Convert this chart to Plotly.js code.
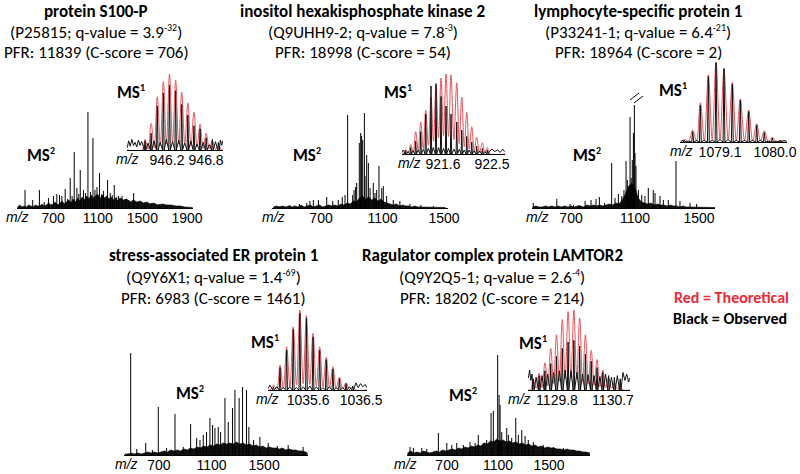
<!DOCTYPE html>
<html><head><meta charset="utf-8">
<script src="https://cdn.plot.ly/plotly-3.0.1.min.js"></script>
<style>html,body{margin:0;padding:0;background:#fff}#chart{width:800px;height:474px}</style>
</head><body><div id="chart"></div>
<script>
// ===================== DATA =====================
// Panel titles
const titles = [
  ["protein S100-P", "(P25815; q-value = 3.9<sup>-32</sup>)", "PFR: 11839 (C-score = 706)"],
  ["inositol hexakisphosphate kinase 2", "(Q9UHH9-2; q-value = 7.8<sup>-3</sup>)", "PFR: 18998 (C-score = 54)"],
  ["lymphocyte-specific protein 1", "(P33241-1; q-value = 6.4<sup>-21</sup>)", "PFR: 18964 (C-score = 2)"],
  ["stress-associated ER protein 1", "(Q9Y6X1; q-value = 1.4<sup>-69</sup>)", "PFR: 6983 (C-score = 1461)"],
  ["Ragulator complex protein LAMTOR2", "(Q9Y2Q5-1; q-value = 2.6<sup>-4</sup>)", "PFR: 18202 (C-score = 214)"]
];
const legendLabels = ["Red = Theoretical", "Black = Observed"];

// MS2 tick labels
const p1Ms2Ticks = [700, 1100, 1500, 1900];
const p2Ms2Ticks = [700, 1100, 1500];
const p3Ms2Ticks = [700, 1100, 1500];
const p4Ms2Ticks = [700, 1100, 1500];
const p5Ms2Ticks = [700, 1100, 1500];
// MS1 tick labels
const p1Ms1Ticks = ["946.2", "946.8"];
const p2Ms1Ticks = ["921.6", "922.5"];
const p3Ms1Ticks = ["1079.1", "1080.0"];
const p4Ms1Ticks = ["1035.6", "1036.5"];
const p5Ms1Ticks = ["1129.8", "1130.7"];

// ---- Panel 1 MS2 ----
const p1Mz  = [448,517,577,620,658,703,733,757,778,808,830,853,870,889,913,930,943,972,990,1012,1035,1057,1075,1093,1116,1135,1152,1188,1212,1230,1248,1270,1287,1318,1350,1380,1422,1460,1520,1580,1650,1720];
const p1Int = [18,8,18,6,10,12,14,13,12,19,9,30,12,56,20,14,38,18,15,96,16,70,18,21,35,14,17,28,15,13,23,11,12,12,9,8,15,6,5,5,4,3];
const p1GrassMz  = [380,400,420,440,460,480,500,520,540,560,580,600,620,640,660,680,700,720,740,760,780,800,820,840,860,880,900,920,940,960,980,1000,1020,1040,1060,1080,1100,1120,1140,1160,1180,1200,1220,1240,1260,1280,1300,1330,1360,1390,1420,1450,1480,1510,1540,1570,1600,1640,1680,1720,1760,1800,1840,1880,1920,1950];
const p1GrassInt = [1,3,1,2,1,3,2,1,3,2,2,4,2,3,5,3,4,6,3,5,7,4,6,8,5,9,6,10,7,11,8,12,9,13,10,12,14,9,13,10,12,9,11,8,10,7,10,8,9,6,8,6,7,5,6,4,5,3,4,3,3,2,2,1,1,0.5];
// ---- Panel 1 MS1 ----
const p1IsoMz   = [945.862,945.956,946.050,946.144,946.238,946.332,946.426,946.520,946.614,946.708,946.802,946.896,946.990];
const p1Theo    = [14,35,70,90,100,92,76,62,50,34,22,12,6];
const p1TheoVal = [1,3,6,8,9,8,7,5,4,2,1,1];
const p1Obs     = [12,22,58,75,85,78,60,46,32,28,16,14,10];
const p1NoiseMz = [945.59,945.61,945.635,945.66,945.685,945.71,945.735,945.76,945.785,945.81,945.835,945.908,946.00,946.095,946.19,946.285,946.38,946.47,946.565,946.66,946.755,946.85,946.945,947.02,947.04,947.055];
const p1NoiseInt= [3,12,5,14,6,10,4,13,6,11,5,9,12,10,14,11,13,9,12,8,10,7,11,13,6,12];

// ---- Panel 2 MS2 ----
const p2Mz  = [433,498,559,607,628,650,683,737,776,812,838,856,873,906,915,925,932,949,958,964,971,982,986,997,1008,1019,1040,1051,1062,1077,1095,1105,1127,1170,1213,1278,1350,1430];
const p2Int = [2,3,4,5,7,8,8,11,7,8,11,13,93,13,18,21,25,65,75,72,68,95,32,53,45,20,25,15,18,42,20,22,12,8,7,4,3,2];
const p2GrassMz  = [390,410,430,450,470,490,510,530,550,570,590,610,630,650,670,690,710,730,750,770,790,810,830,850,870,890,910,930,950,970,990,1010,1030,1050,1070,1090,1110,1130,1150,1170,1190,1210,1230,1250,1270,1290,1310,1330,1350,1370,1390,1410,1430,1450,1470,1490,1510];
const p2GrassInt = [1,2,1,2,1,2,1,2,1,3,1,2,3,1,2,3,1,2,3,2,3,2,4,3,5,4,7,6,10,12,9,11,8,10,7,9,6,5,4,3,4,2,3,2,2,1,2,1,1,1,1,1,1,0.5,1,0.5,0.5];
// ---- Panel 2 MS1 ----
const p2IsoMz   = [920.914,921.006,921.098,921.190,921.282,921.379,921.471,921.563,921.655,921.747,921.852,921.944,922.036,922.128,922.219,922.323,922.415];
const p2Theo    = [6,12,28,40,55,71,86,95,100,99,89,71,52,34,21,14,8];
const p2TheoVal = [1,2,4,7,11,16,20,23,22,18,13,9,6,4,2,1];
const p2Obs     = [4,8,16,28,50,85,88,72,60,50,40,30,22,15,10,7,5];
const p2NoiseMz = [920.85,920.87,920.89,920.96,921.05,921.14,921.24,921.33,921.42,921.52,921.61,921.70,921.80,921.90,921.99,922.08,922.17,922.27,922.37,922.46,922.50,922.55,922.60,922.65,922.70,922.73];
const p2NoiseInt= [2,5,3,3,4,5,6,7,8,8,7,7,6,6,5,5,4,4,3,4,6,3,5,2,6,3];

// ---- Panel 3 MS2 ----
const p3Mz  = [464,611,694,715,750,788,825,856,877,910,954,975,996,1017,1031,1044,1052,1060,1069,1076,1083,1090,1096,1100,1106,1121,1142,1162,1183,1214,1225,1256,1277,1308,1356,1381,1444,1485];
const p3Int = [5,9,4,3,3,7,8,9,11,5,45,10,14,12,18,47,28,20,91,30,48,75,103,55,42,18,13,12,20,18,15,12,8,8,47,7,5,4];
const p3GrassMz  = [460,480,500,520,540,560,580,600,620,640,660,680,700,720,740,760,780,800,820,840,860,880,900,920,940,960,980,1000,1020,1040,1060,1080,1100,1120,1140,1160,1180,1200,1220,1240,1260,1280,1300,1320,1340,1360,1380,1400,1420,1440,1460,1480,1500,1520,1540,1560,1580,1600];
const p3GrassInt = [1,2,1,1,2,1,2,1,2,1,2,1,2,1,2,2,1,3,2,3,2,3,2,3,4,3,5,4,8,14,22,25,20,10,6,5,4,5,3,4,3,3,2,3,2,2,1,2,1,1,1,1,0.5,1,0.5,0.5,0.5,0.5];
// ---- Panel 3 MS1 ----
const p3IsoMz   = [1078.52,1078.653,1078.778,1078.909,1079.035,1079.165,1079.301,1079.432,1079.569,1079.700,1079.825,1079.956,1080.08];
const p3Theo    = [3,15,49,84,100,91,75,54,40,23,14,6,2];
const p3TheoVal = [0.5,1,2,3,3,3,2,2,1,1,0.5,0.3];
const p3Obs     = [2,13,46,82,99,92,72,52,38,21,12,5,2];
const p3NoiseMz = [1078.46,1078.50,1078.58,1078.72,1078.84,1078.97,1079.10,1079.23,1079.37,1079.50,1079.63,1079.76,1079.89,1080.02,1080.14,1080.19];
const p3NoiseInt= [1,2,1,2,2,2,3,3,2,2,2,2,1,1,2,1];

// ---- Panel 4 MS2 ----
const p4Mz  = [485,531,599,650,695,758,822,885,941,987,1012,1037,1062,1088,1108,1126,1151,1169,1202,1227,1260,1278,1310,1336,1366,1384,1420,1468,1531,1600,1683,1797];
const p4Int = [102,6,12,5,48,7,41,8,31,17,15,20,23,37,30,27,28,23,57,33,47,65,57,68,65,28,15,18,12,9,10,8];
const p4GrassMz  = [440,465,490,515,540,565,590,615,640,665,690,715,740,765,790,815,840,865,890,915,940,965,990,1015,1040,1065,1090,1115,1140,1165,1190,1215,1240,1265,1290,1315,1340,1365,1390,1415,1440,1465,1490,1515,1540,1565,1590,1615,1640,1665,1690,1715,1740,1765,1790,1815,1830];
const p4GrassInt = [1,1,2,1,2,1,2,3,2,3,2,3,4,3,5,4,5,4,6,5,7,6,8,7,9,8,10,9,11,10,12,11,12,11,13,11,12,10,11,9,10,8,9,7,8,7,7,6,7,5,6,5,5,4,4,3,2];
// ---- Panel 4 MS1 ----
const p4IsoMz   = [1035.013,1035.125,1035.237,1035.349,1035.461,1035.573,1035.685,1035.797,1035.909,1036.021,1036.133,1036.245,1036.357];
const p4Theo    = [6,31,54,79,100,93,71,54,41,29,16,9,4];
const p4TheoVal = [1,2,4,6,8,7,5,4,3,2,1,0.5];
const p4Obs     = [4,28,50,76,96,90,66,50,38,26,14,8,5];
const p4NoiseMz = [1034.93,1034.95,1034.98,1035.07,1035.18,1035.29,1035.40,1035.52,1035.63,1035.74,1035.85,1035.96,1036.08,1036.19,1036.30,1036.41,1036.45,1036.49,1036.53,1036.57,1036.595];
const p4NoiseInt= [2,6,3,4,3,4,3,4,5,4,3,4,3,3,4,9,3,8,4,7,3];

// ---- Panel 5 MS2 ----
const p5Mz  = [410,436,502,541,632,698,737,776,828,880,920,945,985,1011,1045,1063,1097,1108,1116,1129,1168,1181,1207,1239,1259,1286,1312,1337,1377,1455,1533,1612,1700];
const p5Int = [8,7,7,6,22,12,10,12,10,13,12,20,12,15,42,44,100,60,50,23,27,20,17,37,20,25,19,15,13,10,8,7,5];
const p5GrassMz  = [390,415,440,465,490,515,540,565,590,615,640,665,690,715,740,765,790,815,840,865,890,915,940,965,990,1015,1040,1065,1090,1115,1140,1165,1190,1215,1240,1265,1290,1315,1340,1365,1390,1415,1440,1465,1490,1515,1540,1565,1590,1615,1640,1665,1690,1715,1740,1765,1790,1820];
const p5GrassInt = [2,4,2,3,2,4,3,2,3,4,3,5,4,5,6,5,7,6,8,7,9,8,10,9,12,11,14,13,16,14,15,13,14,12,13,11,12,10,11,9,10,8,9,7,8,7,7,6,6,5,6,5,5,4,4,3,3,2];
// ---- Panel 5 MS1 ----
const p5IsoMz   = [1129.420,1129.513,1129.606,1129.699,1129.792,1129.885,1129.978,1130.071,1130.164,1130.257,1130.350,1130.443,1130.536,1130.629,1130.722,1130.815];
const p5Theo    = [12,21,34,52,69,88,98,100,90,69,50,38,25,16,9,4];
const p5TheoVal = [2,3,5,8,11,14,15,14,11,8,6,4,3,2,1];
const p5Obs     = [14,18,24,33,42,52,60,62,55,45,36,28,22,18,16,14];
const p5NoiseMz = [1129.34,1129.36,1129.38,1129.40,1129.465,1129.56,1129.65,1129.745,1129.84,1129.93,1130.025,1130.12,1130.21,1130.30,1130.395,1130.49,1130.58,1130.675,1130.77,1130.86,1130.89,1130.92,1130.95,1130.97];
const p5NoiseInt= [15,25,12,20,16,18,20,22,24,25,24,22,20,19,18,17,20,16,18,22,12,20,10,15];

// ===================== LAYOUT GEOMETRY (pixels) =====================
const W = 800, H = 474;
const panels = [
  {title:titles[0], tc:[96,11],
   ms2:{mz:p1Mz,int:p1Int,gmz:p1GrassMz,gint:p1GrassInt,ticks:p1Ms2Ticks,x0:17,x1:193,base:208,h:100,range:[376,1954],mzR:31,lbl:[41,155]},
   ms1:{mz:p1IsoMz,theo:p1Theo,val:p1TheoVal,obs:p1Obs,nmz:p1NoiseMz,nint:p1NoiseInt,ticks:p1Ms1Ticks,x0:127,x1:223,base:150,top:74,range:[945.585,947.06],mzR:141,lbl:[131,92],d:0.012}},
  {title:titles[1], tc:[363,11],
   ms2:{mz:p2Mz,int:p2Int,gmz:p2GrassMz,gint:p2GrassInt,ticks:p2Ms2Ticks,x0:272,x1:448,base:208,h:100,range:[381,1526],mzR:287,lbl:[307,155]},
   ms1:{mz:p2IsoMz,theo:p2Theo,val:p2TheoVal,obs:p2Obs,nmz:p2NoiseMz,nint:p2NoiseInt,ticks:p2Ms1Ticks,x0:402,x1:505,base:154,top:74,range:[920.846,922.739],mzR:423,lbl:[398,92],d:0.012}},
  {title:titles[2], tc:[638,11],
   ms2:{mz:p3Mz,int:p3Int,gmz:p3GrassMz,gint:p3GrassInt,ticks:p3Ms2Ticks,x0:532,x1:715,base:208,h:106,range:[456,1600],mzR:551,lbl:[587,155]},
   ms1:{mz:p3IsoMz,theo:p3Theo,val:p3TheoVal,obs:p3Obs,nmz:p3NoiseMz,nint:p3NoiseInt,ticks:p3Ms1Ticks,x0:680,x1:787,base:142,top:62,range:[1078.445,1080.196],mzR:695,lbl:[673,90],d:0.015}},
  {title:titles[3], tc:[213,256],
   ms2:{mz:p4Mz,int:p4Int,gmz:p4GrassMz,gint:p4GrassInt,ticks:p4Ms2Ticks,x0:124,x1:308,base:455,h:103,range:[434,1834],mzR:140,lbl:[190,393]},
   ms1:{mz:p4IsoMz,theo:p4Theo,val:p4TheoVal,obs:p4Obs,nmz:p4NoiseMz,nint:p4NoiseInt,ticks:p4Ms1Ticks,x0:268,x1:367,base:390,top:310,range:[1034.921,1036.60],mzR:281,lbl:[265,342],d:0.014}},
  {title:titles[4], tc:[492,256],
   ms2:{mz:p5Mz,int:p5Int,gmz:p5GrassMz,gint:p5GrassInt,ticks:p5Ms2Ticks,x0:407,x1:590,base:455,h:100,range:[386,1821],mzR:419,lbl:[463,395]},
   ms1:{mz:p5IsoMz,theo:p5Theo,val:p5TheoVal,obs:p5Obs,nmz:p5NoiseMz,nint:p5NoiseInt,ticks:p5Ms1Ticks,x0:528,x1:630,base:390,top:310,range:[1129.334,1130.973],mzR:533,lbl:[533,343],d:0.012}}
];

const TITLE_FONT = "Carlito, Lato, 'Open Sans', sans-serif";
const TICK_FONT = "'Liberation Sans', Arial, sans-serif";
const RED = "#e6545a";
const px = (x) => x / W;
const py = (y) => 1 - y / H;

const traces = [];
const layout = {
  width: W, height: H, margin: {l:0, r:0, t:0, b:0},
  paper_bgcolor: "#fff", plot_bgcolor: "rgba(0,0,0,0)",
  showlegend: false, hovermode: false,
  annotations: [], shapes: []
};

function xAxisDef(dom, range, tickvals, ticktext, anchor) {
  return {domain: dom, range: range, tickvals: tickvals, ticktext: ticktext,
    showline: true, linecolor: "#000", linewidth: 1, ticks: "", showgrid: false,
    zeroline: false, fixedrange: true, anchor: anchor, ticklabelstandoff: -3,
    tickfont: {family: TICK_FONT, size: 14, color: "#000"}};
}
function yAxisDef(dom, range, anchor) {
  return {domain: dom, range: range, visible: false, fixedrange: true, anchor: anchor, showgrid:false, zeroline:false};
}
function ann(text, x, y, font, extra) {
  layout.annotations.push(Object.assign({text: text, x: px(x), y: py(y), xref: "paper", yref: "paper",
    showarrow: false, xanchor: "center", yanchor: "middle", font: font}, extra || {}));
}
const supSmall = (t) => "<sup><span style='font-size:10px'>" + t + "</span></sup>";

let axisN = 0;
panels.forEach((p) => {
  // ---- MS2 axes ----
  axisN++;
  const n2 = axisN;
  const xa2 = n2 === 1 ? "x" : "x" + n2, ya2 = n2 === 1 ? "y" : "y" + n2;
  const m = p.ms2;
  layout[n2 === 1 ? "xaxis" : "xaxis" + n2] = xAxisDef([px(m.x0), px(m.x1)], m.range, m.ticks, m.ticks.map(String), ya2);
  layout[n2 === 1 ? "yaxis" : "yaxis" + n2] = yAxisDef([py(m.base), py(m.base - m.h)], [0, m.h], xa2);
  // grass (dense low-level signal)
  traces.push({type: "scatter", mode: "lines", x: m.gmz, y: m.gint, xaxis: xa2, yaxis: ya2,
    fill: "tozeroy", fillcolor: "#111", line: {color: "#000", width: 0.6}});
  // sticks
  const sx = [], sy = [];
  m.mz.forEach((v, i) => { sx.push(v, v, null); sy.push(0, m.int[i], null); });
  traces.push({type: "scatter", mode: "lines", x: sx, y: sy, xaxis: xa2, yaxis: ya2,
    line: {color: "#000", width: 1}});

  // ---- MS1 inset axes ----
  axisN++;
  const n1 = axisN;
  const xa1 = "x" + n1, ya1 = "y" + n1;
  const s = p.ms1;
  const tv = s.ticks.map(Number);
  layout["xaxis" + n1] = xAxisDef([px(s.x0), px(s.x1)], s.range, tv, s.ticks, ya1);
  layout["yaxis" + n1] = yAxisDef([py(s.base), py(s.top)], [0, 100], xa1);
  // theoretical (red) drawn first
  const step = s.mz[1] - s.mz[0];
  const tx = [s.range[0], s.mz[0] - step / 2], ty = [0, 0];
  s.mz.forEach((c, i) => {
    tx.push(c); ty.push(s.theo[i]);
    if (i < s.val.length) { tx.push((c + s.mz[i + 1]) / 2); ty.push(s.val[i]); }
  });
  tx.push(s.mz[s.mz.length - 1] + step / 2, s.range[1]); ty.push(0, 0);
  traces.push({type: "scatter", mode: "lines", x: tx, y: ty, xaxis: xa1, yaxis: ya1,
    line: {color: RED, width: 1, shape: "spline", smoothing: 1}});
  // observed (black) on top
  const pts = [];
  s.mz.forEach((c, i) => { pts.push([c - s.d, 0], [c, s.obs[i]], [c + s.d, 0]); });
  s.nmz.forEach((c, i) => pts.push([c, s.nint[i]]));
  pts.sort((a, b) => a[0] - b[0]);
  traces.push({type: "scatter", mode: "lines", x: pts.map(q => q[0]), y: pts.map(q => q[1]),
    xaxis: xa1, yaxis: ya1, line: {color: "#111", width: 1}});

  // ---- text ----
  const tf = {family: TITLE_FONT, size: 17, color: "#000"};
  const t2 = p.title[1].replace(/<sup>(.*?)<\/sup>/, (a, b) => supSmall(b));
  ann("<b>" + p.title[0] + "</b>", p.tc[0], p.tc[1], tf);
  ann(t2, p.tc[0], p.tc[1] + 21, tf);
  ann(p.title[2], p.tc[0], p.tc[1] + 42, tf);
  ann("<b>MS" + supSmall("2") + "</b>", m.lbl[0], m.lbl[1], {family: TITLE_FONT, size: 17, color: "#000"});
  ann("<b>MS" + supSmall("1") + "</b>", s.lbl[0], s.lbl[1], {family: TITLE_FONT, size: 17, color: "#000"});
  const mzFont = {family: TICK_FONT, size: 14, color: "#000"};
  ann("<i>m/z</i>", m.mzR, m.base + 9, mzFont, {xanchor: "right"});
  ann("<i>m/z</i>", s.mzR, s.base + 9, mzFont, {xanchor: "right"});
});

// axis-break marks on the truncated base peak of panel 3
layout.shapes.push({type: "line", xref: "paper", yref: "paper", x0: px(630), y0: py(100), x1: px(639), y1: py(93), line: {color: "#000", width: 1}});
layout.shapes.push({type: "line", xref: "paper", yref: "paper", x0: px(634), y0: py(103), x1: px(643), y1: py(96), line: {color: "#000", width: 1}});

// legend text
ann("<b>" + legendLabels[0] + "</b>", 731, 297, {family: TITLE_FONT, size: 16, color: "#ee2a36"});
ann("<b>" + legendLabels[1] + "</b>", 730, 318, {family: TITLE_FONT, size: 16, color: "#000"});

Plotly.newPlot("chart", traces, layout, {staticPlot: true, displayModeBar: false});
</script></body></html>
